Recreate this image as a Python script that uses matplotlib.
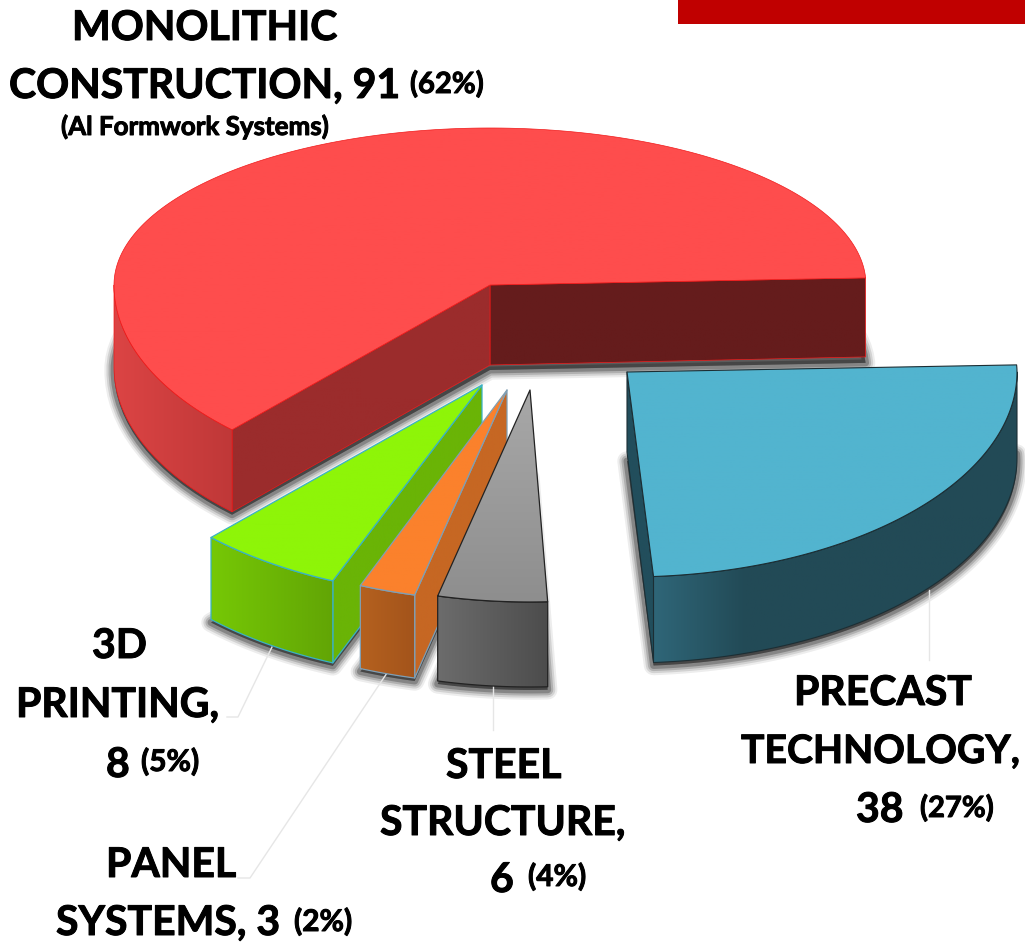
import matplotlib
matplotlib.use('Agg')
import matplotlib.pyplot as plt
import matplotlib.patheffects as pe
import numpy as np
from matplotlib.colors import LinearSegmentedColormap
from matplotlib.patches import Polygon, Rectangle

# pie data, counter clockwise from the east side
names = ['MONOLITHIC CONSTRUCTION', '3D PRINTING', 'PANEL SYSTEMS', 'STEEL STRUCTURE', 'PRECAST TECHNOLOGY']
values = [91, 8, 3, 6, 38]

# look of each slice (picture is a hand tuned 3d pie)
apex_x = [490, 482, 507, 530, 627]
apex_y = [285, 385, 390, 390, 372]
rad_x = [376, 390, 390, 390, 390]
rad_back = [157, 157, 157, 157, 157]
rad_front = [199, 212, 211, 212, 205]
depth = [82, 82, 83, 85, 86]
tweak_a = [2.6, 1.6, 3.8, 4.8, 7.6]
tweak_b = [2.3, 3.4, 4.8, 6.3, 2.6]
top_col = ['#fe4d4d', '#8ef508', '#fb812c', '#a8a8a8', '#52b4cf']
top_col2 = ['#fe4d4d', '#8ef508', '#fb812c', '#8e8e8e', '#52b4cf']
wall_col = ['#dc4444', '#76c805', '#b5611f', '#6c6c6c', '#2f6678']
wall_col2 = ['#bf3838', '#62a505', '#a3541b', '#4c4c4c', '#224a56']
wall_mid = [0.5, 0.5, 0.5, 0.5, 0.25]
cut_col = ['#9b2c2c', '#6ab406', '#c66723', '#4c4c4c', '#224e5c']
edge_col = ['#f01818', '#3ab2c4', '#7f9fb5', '#222222', '#1c2e34']
edge_lw = [0.5, 0.9, 0.9, 0.9, 0.8]


def arc(i, a0, a1, shift=0, n=80):
    t = np.radians(np.linspace(a0, a1, n))
    s = np.sin(t)
    x = apex_x[i] + rad_x[i] * np.cos(t)
    y = apex_y[i] - np.where(s > 0, rad_back[i], rad_front[i]) * s + shift
    return np.column_stack([x, y])


def fill_grad(ax, pts, c0, c1, vertical=False, ec=None, lw=0.9, mid=0.5):
    global z
    z += 1
    patch = Polygon(pts, closed=True, fc='none', ec='none', transform=ax.transData)
    ax.add_patch(patch)
    cmap = LinearSegmentedColormap.from_list('g', [(0, c0), (mid, c0 if mid == 0.5 else c1), (1, c1)])
    if mid == 0.5:
        cmap = LinearSegmentedColormap.from_list('g', [c0, c1])
    g = np.linspace(0, 1, 256)
    g = g.reshape(-1, 1) if vertical else g.reshape(1, -1)
    ext = [pts[:, 0].min(), pts[:, 0].max(), pts[:, 1].max(), pts[:, 1].min()]
    im = ax.imshow(g, cmap=cmap, extent=ext, aspect='auto', zorder=z, vmin=0, vmax=1, origin='upper')
    im.set_clip_path(patch)
    if ec:
        ax.add_patch(Polygon(pts, closed=True, fc='none', ec=ec, lw=lw, zorder=z + 0.5, joinstyle='round'))


fig = plt.figure(figsize=(10.25, 9.43), dpi=100)
ax = fig.add_axes([0, 0, 1, 1])
z = 3

ax.add_patch(Rectangle((678, -5), 347, 29, fc='#c00000', ec='none'))

# angles from the values
edges = np.cumsum([0] + values) / sum(values) * 360
starts = edges[:-1] + np.array(tweak_a)
ends = edges[1:] + np.array(tweak_b)

# soft shadow below the slices
for i in range(5):
    bot = np.vstack([[apex_x[i], apex_y[i] + depth[i]], arc(i, starts[i], ends[i], depth[i])])
    for lw, al in [(14, 0.07), (11, 0.11), (8, 0.16), (5, 0.24)]:
        ax.add_patch(Polygon(bot + [0, 3], closed=True, fc='black', ec='black', alpha=al, lw=lw, zorder=2, joinstyle='round'))

# leader lines
lead_x = [[929, 929], [272, 238, 227], [387, 250, 238], [493, 493]]
lead_y = [[590, 660], [647, 717, 717], [673, 878, 878], [683, 730]]
for lx, ly in zip(lead_x, lead_y):
    ax.plot(lx, ly, color='#e6e6e6', lw=1, zorder=2.5)

for i in range(5):
    a0, a1 = starts[i], ends[i]
    d = depth[i]
    ap = np.array([apex_x[i], apex_y[i]])
    ap_low = ap + [0, 80]
    p0 = arc(i, a0, a0, n=1)[0]
    p1 = arc(i, a1, a1, n=1)[0]
    lw = edge_lw[i]
    # cut faces that can be seen from the front
    if i == 0:
        fill_grad(ax, np.array([ap, p0, p0 + [0, 79], ap_low]), '#651c1c', '#651c1c', ec=edge_col[i], lw=lw)
    if i == 4:
        fill_grad(ax, np.array([ap, p0, p0 + [0, d], ap_low]), cut_col[i], cut_col[i], ec=edge_col[i], lw=lw)
    if i in (0, 1, 2):
        fill_grad(ax, np.array([ap, p1, p1 + [0, d], ap_low]), cut_col[i], cut_col[i], ec=edge_col[i], lw=lw)
    # outer wall, only the front part
    w0 = max(a0, 180)
    w1 = min(a1, 360)
    up = arc(i, w0, w1)
    low = arc(i, w0, w1, d)
    fill_grad(ax, np.vstack([up, low[::-1]]), wall_col[i], wall_col2[i], ec=edge_col[i], lw=lw, mid=wall_mid[i])
    # top face
    top = np.vstack([ap, arc(i, a0, a1, n=200)])
    fill_grad(ax, top, top_col[i], top_col2[i], vertical=True, ec=edge_col[i], lw=lw)

# labels, big part and small percent part
lab_txt = ['MONOLITHIC', 'CONSTRUCTION, 91', '3D', 'PRINTING,', '8', 'PANEL', 'SYSTEMS, 3',
           'STEEL', 'STRUCTURE,', '6', 'PRECAST', 'TECHNOLOGY,', '38']
lab_x = [72, 9, 92, 16, 106, 106, 56, 446, 380, 490, 794, 741, 856]
lab_y = [40, 98, 658, 717, 777, 877, 935, 778, 835, 892, 705, 763, 822]
lab_size = [29.5, 29.5, 29.5, 29.5, 29.5, 29.5, 29.5, 29.5, 29.5, 29.5, 29.5, 28.2, 29.5]
pct_txt = ['(62%)', '(Al Formwork Systems)', '(5%)', '(2%)', '(4%)', '(27%)']
pct_x = [410, 61, 141, 294, 528, 920]
pct_y = [93, 135, 771, 931, 886, 817]
pct_size = [21, 18.7, 21.5, 21.5, 21.5, 21]

stroke = [pe.withStroke(linewidth=0.7, foreground='black')]
for s, x, y, fs in zip(lab_txt, lab_x, lab_y, lab_size):
    ax.text(x, y, s, fontsize=fs, fontweight='bold', family='Lato', color='black', ha='left', va='baseline',
            zorder=50, path_effects=stroke)
for s, x, y, fs in zip(pct_txt, pct_x, pct_y, pct_size):
    ax.text(x, y, s, fontsize=fs, fontweight='bold', family='Lato', color='black', ha='left', va='baseline',
            zorder=50, path_effects=stroke)

ax.set_xlim(0, 1025)
ax.set_ylim(943, 0)
ax.axis('off')
fig.savefig('out.png', dpi=100)
